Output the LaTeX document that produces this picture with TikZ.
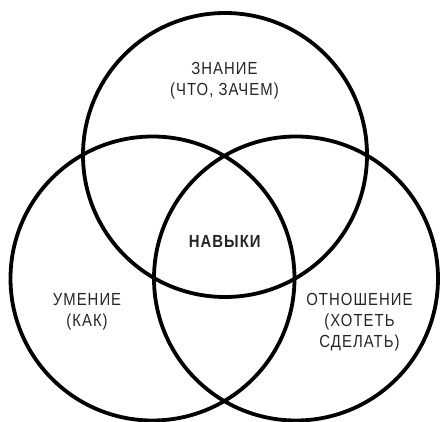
\documentclass[tikz,border=0pt]{standalone}
\usepackage{fontspec}
\setmainfont{Liberation Sans}[FakeStretch=0.85,LetterSpace=6]
\begin{document}
\begin{tikzpicture}[x=1pt,y=-1pt,
  ring/.style={draw=black,line width=3.8pt,circle,minimum size=284pt,inner sep=0pt},
  lbl/.style={align=center,font=\fontsize{17.5}{21}\selectfont,text=black!85,inner sep=0pt}]
\useasboundingbox (0,0) rectangle (440,422);
\node[ring] (top) at (225,155) {};
\node[ring] (left) at (152.5,278.5) {};
\node[ring] (right) at (296,278.5) {};
\node[lbl] (zn) at (224.5,81) {ЗНАНИЕ\\(ЧТО, ЗАЧЕМ)};
\node[lbl,font=\fontsize{17.5}{21}\selectfont\bfseries] (nav) at (224.7,241) {НАВЫКИ};
\node[lbl] (um) at (87,312) {УМЕНИЕ\\(КАК)};
\node[lbl] (ot) at (359.5,322) {ОТНОШЕНИЕ\\(ХОТЕТЬ\\СДЕЛАТЬ)};
\end{tikzpicture}
\end{document}
